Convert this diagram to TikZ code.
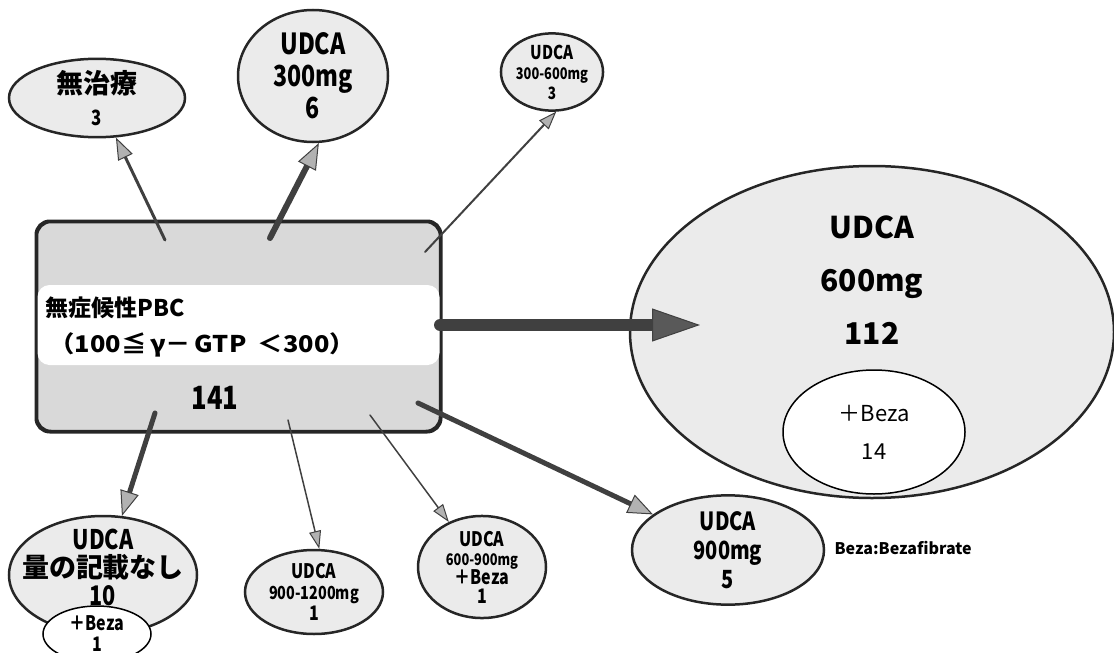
\documentclass[tikz,border=0pt]{standalone}
\usepackage{fontspec}
\setmainfont{Noto Sans CJK JP}
\newfontfamily\condfont{Noto Sans CJK JP}[FakeStretch=0.8]
\newfontfamily\widefont{Noto Sans CJK JP}[FakeStretch=1.1]
\usetikzlibrary{shapes.geometric,arrows.meta}

\begin{document}
\begin{tikzpicture}[x=1pt,y=-1pt,
    oval/.style={ellipse,draw=black!85,line width=2.5pt,fill=gray!16,inner sep=0pt,align=center},
    inoval/.style={ellipse,draw=black,line width=1.5pt,fill=white,inner sep=0pt,align=center},
    conn/.style={draw=black!75,line cap=round}]
  \useasboundingbox (0,0) rectangle (1114,653);

  % main box
  \node[draw=black!85,line width=2.5pt,fill=gray!30,rounded corners=14pt,minimum width=403pt,minimum height=209pt,inner sep=0pt] (pbc) at (238.5,326.5) {};
  \fill[white,rounded corners=12pt] (37.5,285) rectangle (439.5,365);
  \draw[black!85,line width=2.5pt,rounded corners=14pt] (pbc.south west) rectangle (pbc.north east);
  \node[anchor=west,font=\bfseries\fontsize{23}{26}\selectfont] (title) at (42,308) {無症候性PBC};
  \node[anchor=west,font=\widefont\bfseries\fontsize{23}{26}\selectfont] (range) at (46,345) {（100≦\,γ－\,GTP\enspace ＜300）};
  \node[font=\condfont\bfseries\fontsize{32}{34}\selectfont] (total) at (215,398) {141};

  % small ovals
  \node[oval,minimum width=176pt,minimum height=72pt,font=\bfseries\fontsize{27}{27}\selectfont] (notx) at (97,98)
    {無治療\\[5pt]\condfont\bfseries\fontsize{21}{21}\selectfont 3};
  \node[oval,minimum width=150pt,minimum height=132pt,font=\condfont\bfseries\fontsize{29}{32}\selectfont] (u300) at (313,76)
    {UDCA\\300mg\\6};
  \node[oval,minimum width=95pt,minimum height=58pt,font=\condfont\bfseries\fontsize{16}{20}\selectfont] (u300b) at (552,72)
    {\fontsize{19}{20}\selectfont UDCA\\300-600mg\\\fontsize{17}{20}\selectfont 3};
  \node[oval,minimum width=192pt,minimum height=100pt,font=\condfont\bfseries\fontsize{25}{29}\selectfont] (u900) at (728,550)
    {UDCA\\900mg\\5};
  \node[oval,minimum width=188pt,minimum height=118pt] (unone) at (103,575) {};
  \node[align=center,font=\condfont\bfseries\fontsize{27}{28}\selectfont] (unonetxt) at (103,567)
    {UDCA\\\normalfont\bfseries\fontsize{27}{28}\selectfont 量の記載なし\\10};
  \node[inoval,minimum width=108pt,minimum height=56pt,font=\condfont\bfseries\fontsize{20}{21}\selectfont] (unoneb) at (97,634)
    {＋Beza\\1};
  \node[oval,minimum width=138pt,minimum height=84pt,font=\condfont\bfseries\fontsize{20}{21}\selectfont] (u1200) at (314,592)
    {UDCA\\\fontsize{18}{21}\selectfont 900-1200mg\\1};
  \node[oval,minimum width=128pt,minimum height=86pt,font=\condfont\bfseries\fontsize{20}{19}\selectfont] (u600b) at (482,567)
    {UDCA\\\fontsize{16}{19}\selectfont 600-900mg\\＋Beza\\1};

  % big oval
  \node[oval,minimum width=484pt,minimum height=332pt] (u600) at (872,332) {};
  \node[font=\bfseries\fontsize{30}{53}\selectfont,align=center] (u600txt) at (872,280) {UDCA\\600mg\\112};
  \node[inoval,minimum width=182pt,minimum height=124pt,font=\fontsize{22}{38}\selectfont] (u600bz) at (874,432) {＋Beza\\14};

  \node[anchor=west,font=\bfseries\fontsize{16}{18}\selectfont] (note) at (831,548) {Beza:Bezafibrate};

  % arrows
  \coordinate (s1) at (165,240);
  \coordinate (s2) at (270,238);
  \coordinate (s3) at (425,252);
  \coordinate (s4) at (440,325);
  \coordinate (s5) at (418,403);
  \coordinate (s6) at (155,413);
  \coordinate (s7) at (288,420);
  \coordinate (s8) at (370,415);
  \coordinate (bigtip) at (700,325);
  \draw[conn,line width=3pt,-{Triangle[length=22pt,width=16pt,fill=gray!60,line width=1pt]}] (s1) -- (notx);
  \draw[conn,line width=6pt,-{Triangle[length=26pt,width=20pt,fill=gray!60,line width=1pt]}] (s2) -- (u300.-85);
  \draw[conn,line width=2pt,-{Triangle[length=18pt,width=13pt,fill=gray!60,line width=1pt]}] (s3) -- (u300b.-84);
  \draw[conn,line width=12pt,-{Triangle[length=48pt,width=33pt,fill=gray!70!black,line width=1pt]}] (s4) -- (bigtip);
  \draw[conn,line width=5pt,-{Triangle[length=25pt,width=20pt,fill=gray!60,line width=1pt]}] (s5) -- (u900);
  \draw[conn,line width=5pt,-{Triangle[length=25pt,width=19pt,fill=gray!60,line width=1pt]}] (s6) -- (unone);
  \draw[conn,line width=1.5pt,-{Triangle[length=18pt,width=12pt,fill=gray!60,line width=1pt]}] (s7) -- (u1200.83);
  \draw[conn,line width=1.5pt,-{Triangle[length=18pt,width=12pt,fill=gray!60,line width=1pt]}] (s8) -- (u600b);
\end{tikzpicture}
\end{document}
